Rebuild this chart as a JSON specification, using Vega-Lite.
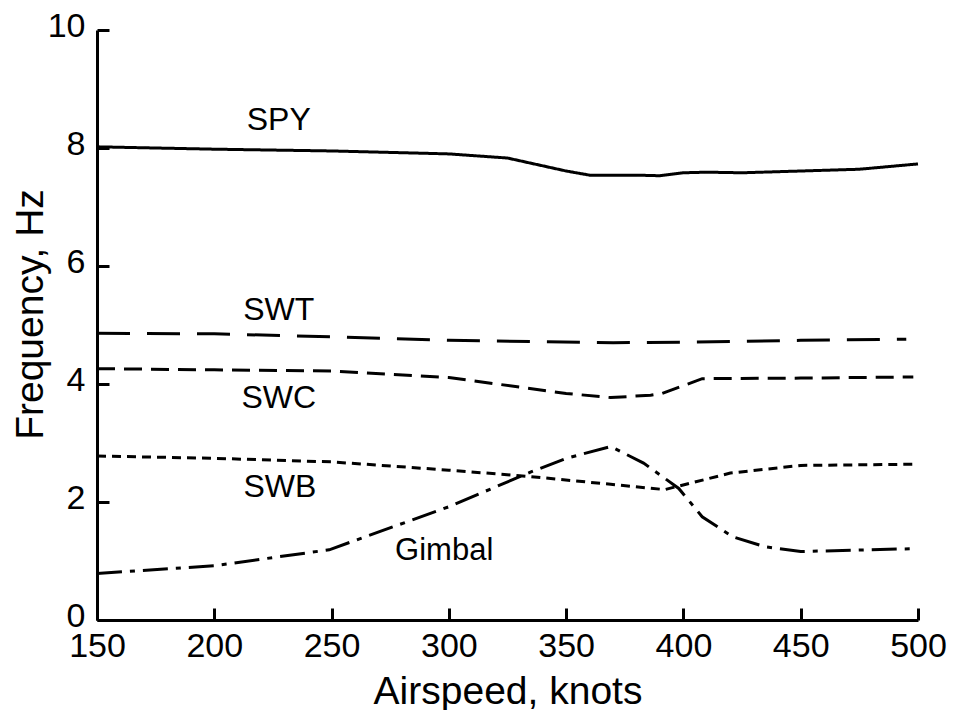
{
  "$schema": "https://vega.github.io/schema/vega-lite/v6.json",
  "width": 821,
  "height": 590,
  "autosize": {"type": "none"},
  "padding": {"left": 97, "top": 30, "right": 35, "bottom": 90},
  "background": "white",
  "config": {
    "view": {"stroke": null},
    "font": "Liberation Sans"
  },
  "datasets": {
    "lines": [
      {"s": "SPY", "x": 150, "y": 8.02},
      {"s": "SPY", "x": 200, "y": 7.98},
      {"s": "SPY", "x": 250, "y": 7.95},
      {"s": "SPY", "x": 300, "y": 7.9},
      {"s": "SPY", "x": 325, "y": 7.83},
      {"s": "SPY", "x": 350, "y": 7.61},
      {"s": "SPY", "x": 360, "y": 7.54},
      {"s": "SPY", "x": 380, "y": 7.54},
      {"s": "SPY", "x": 390, "y": 7.53},
      {"s": "SPY", "x": 400, "y": 7.58},
      {"s": "SPY", "x": 410, "y": 7.59},
      {"s": "SPY", "x": 425, "y": 7.58},
      {"s": "SPY", "x": 450, "y": 7.61},
      {"s": "SPY", "x": 475, "y": 7.64},
      {"s": "SPY", "x": 500, "y": 7.73},
      {"s": "SWT", "x": 150, "y": 4.86},
      {"s": "SWT", "x": 200, "y": 4.85},
      {"s": "SWT", "x": 250, "y": 4.8},
      {"s": "SWT", "x": 300, "y": 4.74},
      {"s": "SWT", "x": 370, "y": 4.7},
      {"s": "SWT", "x": 400, "y": 4.71},
      {"s": "SWT", "x": 450, "y": 4.74},
      {"s": "SWT", "x": 495, "y": 4.76},
      {"s": "SWC", "x": 150, "y": 4.26},
      {"s": "SWC", "x": 200, "y": 4.24},
      {"s": "SWC", "x": 250, "y": 4.22},
      {"s": "SWC", "x": 300, "y": 4.11},
      {"s": "SWC", "x": 350, "y": 3.84},
      {"s": "SWC", "x": 369, "y": 3.77},
      {"s": "SWC", "x": 386, "y": 3.81},
      {"s": "SWC", "x": 391, "y": 3.84},
      {"s": "SWC", "x": 408, "y": 4.09},
      {"s": "SWC", "x": 450, "y": 4.1},
      {"s": "SWC", "x": 498, "y": 4.12},
      {"s": "SWB", "x": 150, "y": 2.78},
      {"s": "SWB", "x": 200, "y": 2.74},
      {"s": "SWB", "x": 250, "y": 2.68},
      {"s": "SWB", "x": 300, "y": 2.54},
      {"s": "SWB", "x": 335, "y": 2.43},
      {"s": "SWB", "x": 369, "y": 2.3},
      {"s": "SWB", "x": 392, "y": 2.21},
      {"s": "SWB", "x": 420, "y": 2.49},
      {"s": "SWB", "x": 450, "y": 2.62},
      {"s": "SWB", "x": 498, "y": 2.64},
      {"s": "Gimbal", "x": 150, "y": 0.79},
      {"s": "Gimbal", "x": 200, "y": 0.92},
      {"s": "Gimbal", "x": 249, "y": 1.19},
      {"s": "Gimbal", "x": 300, "y": 1.92},
      {"s": "Gimbal", "x": 335, "y": 2.51},
      {"s": "Gimbal", "x": 350, "y": 2.74},
      {"s": "Gimbal", "x": 369, "y": 2.94},
      {"s": "Gimbal", "x": 383, "y": 2.66},
      {"s": "Gimbal", "x": 398, "y": 2.23},
      {"s": "Gimbal", "x": 408, "y": 1.75},
      {"s": "Gimbal", "x": 421, "y": 1.41},
      {"s": "Gimbal", "x": 435, "y": 1.24},
      {"s": "Gimbal", "x": 450, "y": 1.16},
      {"s": "Gimbal", "x": 499, "y": 1.21}
    ],
    "labels": [
      {"t": "SPY", "x": 227.5, "y": 8.47, "size": 32},
      {"t": "SWT", "x": 227.5, "y": 5.26, "size": 32},
      {"t": "SWC", "x": 227.5, "y": 3.76, "size": 32},
      {"t": "SWB", "x": 228, "y": 2.25, "size": 32},
      {"t": "Gimbal", "x": 298, "y": 1.17, "size": 31}
    ]
  },
  "layer": [
    {
      "data": {"name": "lines"},
      "mark": {"type": "line", "color": "black", "strokeWidth": 3},
      "encoding": {
        "x": {
          "field": "x", "type": "quantitative",
          "scale": {"domain": [150, 500], "nice": false, "zero": false},
          "axis": {
            "title": "Airspeed, knots",
            "values": [150, 200, 250, 300, 350, 400, 450, 500],
            "format": "d",
            "tickSize": -12, "tickWidth": 3, "tickColor": "black",
            "domainWidth": 3, "domainColor": "black",
            "labelFontSize": 34, "labelColor": "black", "labelPadding": 21,
            "labelFont": "Liberation Sans",
            "titleFontSize": 39, "titleFontWeight": "normal", "titleColor": "black",
            "titleFont": "Liberation Sans", "titleBaseline": "alphabetic", "titleY": 83,
            "grid": false, "labelFlush": false, "labelOverlap": false
          }
        },
        "y": {
          "field": "y", "type": "quantitative",
          "scale": {"domain": [0, 10], "nice": false},
          "axis": {
            "title": "Frequency, Hz",
            "values": [0, 2, 4, 6, 8, 10],
            "format": "d",
            "tickSize": -12, "tickWidth": 3, "tickColor": "black",
            "domainWidth": 3, "domainColor": "black",
            "labelFontSize": 34, "labelColor": "black", "labelPadding": 24,
            "labelFont": "Liberation Sans", "labelOffset": -4,
            "titleFontSize": 39, "titleFontWeight": "normal", "titleColor": "black",
            "titleFont": "Liberation Sans", "titleBaseline": "alphabetic",
            "titleX": -55, "titleY": 284, "titleAngle": -90, "titleAlign": "center",
            "grid": false, "labelFlush": false, "labelOverlap": false
          }
        },
        "detail": {"field": "s"},
        "strokeDash": {
          "field": "s", "type": "nominal",
          "scale": {
            "domain": ["SPY", "SWT", "SWC", "SWB", "Gimbal"],
            "range": [[1, 0], [33, 17], [18, 9], [9, 6], [25, 8, 5, 8]]
          },
          "legend": null
        }
      }
    },
    {
      "data": {"name": "labels"},
      "mark": {"type": "text", "font": "Liberation Sans", "color": "black", "align": "center", "baseline": "middle"},
      "encoding": {
        "x": {"field": "x", "type": "quantitative"},
        "y": {"field": "y", "type": "quantitative"},
        "text": {"field": "t"},
        "size": {"field": "size", "type": "quantitative", "scale": null}
      }
    }
  ]
}
